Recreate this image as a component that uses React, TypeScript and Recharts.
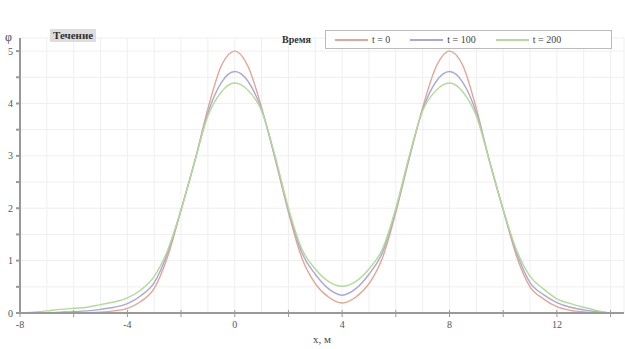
import { LineChart, Line, XAxis, YAxis, CartesianGrid, Legend } from 'recharts';

// x positions of the samples
const xs = [
	-8, -7.5, -7, -6.5, -6, -5.5, -5, -4.5, -4, -3.5, -3, -2.5, -2, -1.5, -1, -0.5,
	0, 0.5, 1, 1.5, 2, 2.5, 3, 3.5, 4, 4.5, 5, 5.5, 6, 6.5, 7, 7.5,
	8, 8.5, 9, 9.5, 10, 10.5, 11, 11.5, 12, 12.5, 13, 13.5, 14,
];

// t = 0
const u0 = [
	0, 0, 0, 0, 0, 0.005, 0.015, 0.04, 0.09, 0.22, 0.47, 1.08, 1.97, 2.88, 3.9, 4.72,
	5, 4.7, 3.92, 2.95, 1.92, 1.05, 0.56, 0.3, 0.19, 0.3, 0.56, 1.05, 1.92, 2.95, 3.92, 4.7,
	5, 4.72, 3.9, 2.88, 1.97, 1.08, 0.5, 0.27, 0.12, 0.05, 0.02, 0.005, 0,
];

// t = 100
const u100 = [
	0, 0, 0.005, 0.015, 0.025, 0.04, 0.07, 0.11, 0.18, 0.33, 0.58, 1.15, 1.97, 2.88, 3.82, 4.4,
	4.61, 4.42, 3.88, 2.97, 1.97, 1.15, 0.74, 0.46, 0.34, 0.46, 0.74, 1.15, 1.97, 2.97, 3.88, 4.42,
	4.61, 4.4, 3.82, 2.88, 1.97, 1.15, 0.58, 0.35, 0.2, 0.11, 0.06, 0.025, 0,
];

// t = 200
const u200 = [
	0, 0.015, 0.04, 0.07, 0.09, 0.11, 0.16, 0.21, 0.29, 0.44, 0.7, 1.2, 1.97, 2.88, 3.76, 4.22,
	4.39, 4.25, 3.86, 3, 2, 1.22, 0.84, 0.6, 0.51, 0.6, 0.84, 1.22, 2, 3, 3.86, 4.25,
	4.39, 4.22, 3.76, 2.88, 1.97, 1.2, 0.7, 0.46, 0.27, 0.18, 0.11, 0.045, 0,
];

const xTicks = [-8, -7, -6, -5, -4, -3, -2, -1, 0, 1, 2, 3, 4, 5, 6, 7, 8, 9, 10, 11, 12, 13, 14];
const yTicks = [0, 0.5, 1, 1.5, 2, 2.5, 3, 3.5, 4, 4.5, 5];

const series = [
	{ key: 'u0', name: 't = 0', color: '#e3a594' },
	{ key: 'u100', name: 't = 100', color: '#aba7d8' },
	{ key: 'u200', name: 't = 200', color: '#b0dc95' },
];

const data = xs.map((x, i) => ({ x, u0: u0[i], u100: u100[i], u200: u200[i] }));

const FONT = '"Liberation Serif", "DejaVu Serif", serif';

function XTick(props: any) {
	const { x, y, payload } = props;
	const v = payload.value;
	const even = v % 2 === 0;
	const labelled = v % 4 === 0;
	return (
		<g>
			{even && <line x1={x} x2={x} y1={y - 3} y2={y + 4} stroke="#999" />}
			{labelled && (
				<text x={x} y={y + 15} textAnchor="middle" fontSize={10} fill="#555" fontFamily={FONT}>
					{v}
				</text>
			)}
		</g>
	);
}

function LegendBox() {
	return (
		<div style={{ display: 'flex', alignItems: 'center', fontFamily: FONT, fontSize: 10, color: '#444' }}>
			<span style={{ fontWeight: 'bold', color: '#333', width: 43 }}>Время</span>
			<div style={{ display: 'flex', alignItems: 'center', border: '1px solid #bbb', height: 17, width: 286, background: '#fff' }}>
				{series.map((s, i) => (
					<div key={s.key} style={{ display: 'flex', alignItems: 'center', marginLeft: i === 0 ? 9 : 20 }}>
						<div style={{ width: 33, height: 2, background: s.color, marginRight: 4 }} />
						<span>{s.name}</span>
					</div>
				))}
			</div>
		</div>
	);
}

export default function App() {
	return (
		<div style={{ position: 'absolute', left: 0, top: 0, width: 625, height: 349, background: '#fff' }}>
			<LineChart width={625} height={349} data={data} margin={{ top: 38, right: 1, left: 0, bottom: 6 }}>
				<CartesianGrid stroke="#efefef" />
				<XAxis
					dataKey="x"
					type="number"
					domain={[-8, 14.5]}
					ticks={xTicks}
					interval={0}
					height={30}
					tickSize={0}
					tickMargin={0}
					tickLine={false}
					tick={<XTick />}
					stroke="#999"
					strokeWidth={2}
					allowDataOverflow
					label={{ value: 'x, м', position: 'insideBottom', offset: 0, fontSize: 11, fill: '#444', fontFamily: FONT }}
				/>
				<YAxis
					type="number"
					domain={[0, 5.25]}
					ticks={yTicks}
					interval={0}
					width={20}
					tickSize={4}
					tickMargin={3}
					stroke="#999"
					strokeWidth={2}
					tick={{ fontSize: 10, fill: '#555', fontFamily: FONT }}
					tickFormatter={(v: number) => (Number.isInteger(v) ? String(v) : '')}
					allowDataOverflow
				/>
				<Legend
					layout="horizontal"
					verticalAlign="middle"
					align="center"
					wrapperStyle={{ top: 30, left: 282, width: 330 }}
					content={() => <LegendBox />}
				/>
				{series.map((s) => (
					<Line
						key={s.key}
						type="monotone"
						dataKey={s.key}
						name={s.name}
						stroke={s.color}
						strokeWidth={1.4}
						dot={false}
						isAnimationActive={false}
					/>
				))}
			</LineChart>
			<div style={{ position: 'absolute', left: 5, top: 30, fontFamily: FONT, fontSize: 12, color: '#444' }}>φ</div>
			<div
				style={{
					position: 'absolute', left: 50, top: 29, padding: '0 3px', background: '#ddd',
					fontFamily: FONT, fontSize: 11, fontWeight: 'bold', color: '#333', lineHeight: '13px',
				}}
			>
				Течение
			</div>
		</div>
	);
}
